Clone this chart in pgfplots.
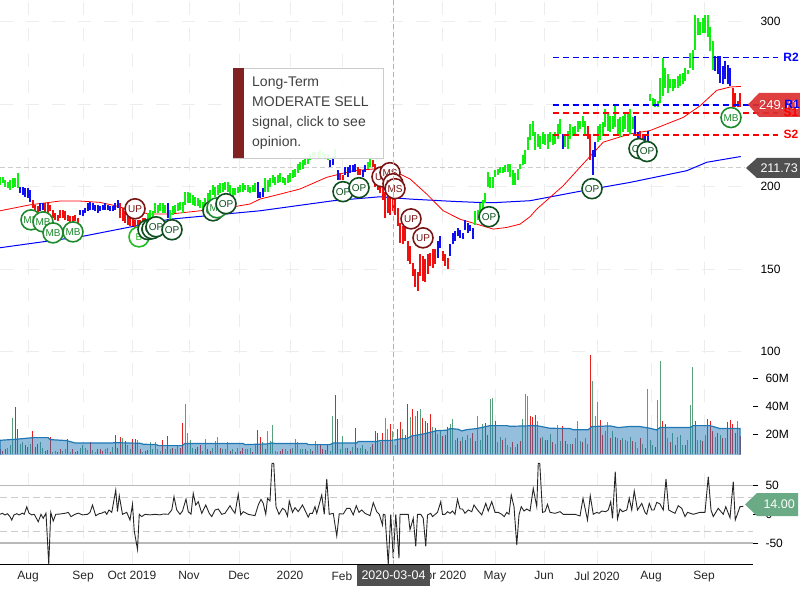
\documentclass[border=0pt]{standalone}
\usepackage{fontspec}
\setmainfont{Liberation Sans}
\usepackage{pgfplots}
\usepackage{pgfplotstable}
\pgfplotsset{compat=1.18}
\definecolor{pgreen}{HTML}{10F010}
\definecolor{pblue}{HTML}{1010F0}
\definecolor{pred}{HTML}{F01010}
\definecolor{mbg}{HTML}{1D8A2D}
\definecolor{bg}{HTML}{22BB22}
\definecolor{opg}{HTML}{0F4F1F}
\definecolor{upr}{HTML}{7A1515}
\definecolor{vg}{HTML}{5AA07A}
\definecolor{vr}{HTML}{E82020}
\definecolor{ma}{HTML}{1F77B4}
\definecolor{gridc}{HTML}{EDEDED}
\definecolor{tagr}{HTML}{DC2F2F}
\definecolor{tagd}{HTML}{505050}
\definecolor{tagg}{HTML}{6AAA85}

\pgfplotstableread[row sep=\\]{
x lo hi\\
0 201 206\\1 202 206\\2 200 204\\3 199 203\\4 198 204\\5 199 205\\6 200 205\\7 199 208\\
59 179 184\\60 180 186\\61 180 185\\62 184 190\\63 184 189\\64 185 190\\65 184 190\\66 184 189\\
68 180 186\\69 183 188\\70 184 189\\71 185 190\\72 186 191\\73 184 191\\74 189 197\\75 190 197\\76 190 196\\77 189 195\\78 188 194\\79 188 193\\80 187 192\\81 186 191\\82 187 193\\83 189 196\\84 191 198\\85 195 201\\86 194 200\\87 195 201\\88 196 202\\89 197 202\\90 198 203\\91 197 203\\92 195 201\\93 194 199\\94 195 199\\95 196 200\\96 197 201\\97 197 202\\98 198 201\\99 197 201\\100 196 200\\101 197 201\\102 197 202\\
106 197 205\\107 197 204\\108 200 205\\109 202 207\\110 201 206\\111 202 207\\112 203 208\\113 202 206\\114 201 205\\115 202 207\\116 203 208\\117 205 210\\118 206 211\\119 208 214\\120 210 215\\121 211 216\\122 213 217\\123 214 218\\124 216 220\\125 218 221\\126 218 221\\127 217 221\\128 218 222\\129 218 221\\130 217 220\\131 216 220\\134 217 223\\147 211 215\\148 212 217\\
190 177 185\\191 180 186\\192 184 190\\193 186 192\\194 190 196\\195 200 209\\196 199 206\\197 199 206\\198 206 210\\199 207 211\\200 208 212\\201 208 212\\202 209 213\\203 209 214\\204 206 214\\205 201 210\\206 201 208\\207 204 211\\208 211 214\\209 213 219\\210 214 222\\211 222 230\\212 228 238\\213 231 240\\214 222 233\\215 224 232\\216 223 231\\217 226 233\\218 225 232\\219 223 232\\220 227 233\\221 225 232\\222 226 233\\223 229 238\\224 232 241\\226 224 232\\227 223 234\\228 229 238\\229 231 236\\230 232 237\\231 233 240\\232 235 240\\233 236 243\\234 232 240\\
239 227 237\\240 228 238\\241 231 239\\242 236 247\\243 234 245\\244 233 243\\245 235 243\\246 236 250\\247 232 241\\248 230 242\\249 233 243\\250 235 245\\251 233 244\\252 232 247\\253 235 242\\
260 252 256\\261 249 254\\262 248 253\\263 248 252\\264 251 266\\265 255 278\\266 260 272\\267 257 268\\268 260 265\\269 258 265\\270 260 265\\271 260 267\\272 261 268\\273 262 269\\274 264 272\\275 268 271\\276 272 281\\277 271 283\\278 283 304\\279 292 302\\280 292 300\\281 293 302\\282 293 304\\283 291 304\\284 282 297\\285 271 288\\
}\gtab
\pgfplotstableread[row sep=\\]{
x lo hi\\
8 196 200\\9 195 200\\10 194 199\\11 193 199\\12 191 198\\16 185 190\\17 186 190\\32 183 186\\33 182 186\\34 184 187\\35 185 190\\36 186 191\\37 186 190\\38 185 189\\39 184 189\\40 185 188\\41 186 189\\42 186 190\\43 186 189\\44 185 188\\45 185 188\\46 186 190\\47 187 192\\67 181 190\\103 193 203\\104 193 197\\105 194 199\\132 212 216\\133 213 218\\135 204 210\\138 207 212\\139 206 212\\140 208 213\\141 209 213\\142 209 214\\145 206 210\\146 209 213\\175 157 167\\176 163 170\\180 158 165\\181 165 172\\182 167 173\\183 170 175\\184 169 174\\185 168 172\\186 174 180\\187 172 178\\188 173 177\\189 168 175\\225 223 232\\237 207 222\\238 218 227\\254 231 243\\255 229 233\\258 228 232\\259 226 234\\286 270 279\\287 268 279\\288 263 279\\289 262 273\\290 265 276\\291 262 274\\292 261 272\\
}\btab
\pgfplotstableread[row sep=\\]{
x lo hi\\
13 187 192\\14 185 189\\15 184 188\\18 183 190\\19 184 190\\20 185 189\\21 181 186\\22 180 184\\23 179 183\\24 181 186\\25 181 186\\26 180 185\\27 179 183\\28 178 182\\29 177 182\\30 179 183\\31 177 181\\48 181 190\\49 179 187\\50 178 185\\51 177 183\\52 176 182\\53 176 181\\54 175 180\\55 175 180\\56 176 180\\57 176 181\\58 177 181\\136 204 208\\137 204 207\\143 207 212\\144 207 211\\149 212 216\\150 200 214\\151 198 208\\152 196 205\\153 192 203\\154 181 197\\155 184 196\\156 183 196\\157 185 195\\158 183 193\\159 176 187\\160 166 178\\161 165 176\\162 167 178\\163 155 167\\164 153 164\\165 146 154\\166 139 150\\167 137 148\\168 146 159\\169 143 158\\170 142 156\\171 147 159\\172 152 160\\173 151 162\\174 153 162\\177 155 161\\178 152 159\\179 150 157\\235 229 237\\236 216 232\\256 229 234\\257 227 232\\293 248 260\\294 248 257\\295 248 252\\296 248 257\\
}\rtab
\pgfplotstableread[row sep=\\]{
x v\\
3 10\\4 12\\5 31.5\\8 13\\9 14.5\\12 13\\16 14\\17 10\\21 7.5\\22 8\\25 8\\26 9\\28 7.5\\32 10\\33 12\\34 10\\35 8.5\\37 8.5\\38 7\\42 9\\43 10\\45 11\\49 17\\51 12\\52 9\\55 16\\57 7.5\\60 14.3\\61 9\\62 14.3\\63 9\\64 8\\66 9\\68 9\\70 9.5\\71 12\\74 41.5\\75 21\\76 15.8\\77 10\\81 8\\82 16.5\\85 10\\86 15\\87 18\\89 9\\90 9.5\\91 14.3\\93 9\\95 10\\98 9\\99 9\\100 10\\102 13\\105 14.3\\107 22.2\\108 15\\109 26.5\\110 8\\111 7.5\\114 9\\115 8\\117 10\\118 16.5\\119 14.3\\120 9\\121 9\\123 8\\124 9\\126 15\\127 12\\132 8\\133 32.9\\136 9\\137 18.6\\138 10\\141 11\\144 10\\145 12\\147 8\\148 11\\152 14\\154 31.7\\155 23.9\\157 22\\158 12\\161 23.9\\164 32.4\\166 32.9\\168 38.1\\173 25\\175 20\\176 22.5\\180 27.2\\181 31\\182 16\\185 18\\187 19\\188 17\\191 33.1\\192 16\\193 27.2\\196 45.3\\197 46\\199 14\\200 18\\202 17\\203 12\\204 11\\206 10.5\\209 31\\210 48.9\\211 47.4\\215 29\\217 18\\220 20\\222 13\\223 26.7\\224 15\\227 13\\228 13\\230 17\\231 29.6\\232 15\\234 17\\235 13\\237 58.1\\238 33.1\\239 42.9\\242 22\\243 28.9\\245 22\\247 17\\249 17\\250 16\\251 15\\252 18\\254 14\\255 10\\257 13\\259 52.4\\260 16\\261 12\\263 44.6\\264 72.4\\267 17\\269 21\\271 18\\272 19\\273 12\\275 16\\276 41\\277 68.1\\279 16\\280 16\\282 19\\286 18\\288 19\\290 17\\295 29.6\\
}\vgtab
\pgfplotstableread[row sep=\\]{
x v\\
0 9\\1 8\\2 9\\6 39.3\\7 23.9\\10 12\\11 10.5\\13 22.2\\14 11\\15 13\\18 8\\19 8.5\\20 18\\23 7.5\\24 9\\27 16.2\\29 9\\30 7\\31 8\\36 14\\39 9.5\\40 9.5\\41 8\\44 7.5\\46 19.6\\47 10\\48 18\\50 15\\53 16.7\\54 16.2\\56 9\\58 8\\59 8.5\\65 15.8\\67 18.6\\69 10\\72 10\\73 28.1\\78 9\\79 11\\80 12\\83 9\\84 8\\88 10\\92 8\\94 7\\96 8\\97 10\\101 7.5\\103 22.9\\104 18\\106 9\\112 8\\113 9\\116 9\\122 9\\125 8\\128 13\\129 9\\130 8.5\\131 12\\134 47.9\\135 31\\139 10\\140 8\\142 24.3\\143 10\\146 9\\149 13\\150 22.2\\151 20.8\\153 20.8\\156 27.2\\159 23.9\\160 28.6\\162 19.6\\163 41.5\\165 38.1\\167 36.7\\169 31.7\\170 29.1\\171 27.9\\172 34.3\\174 24.3\\177 18.6\\178 19\\179 25.3\\183 17\\184 15\\186 16\\189 20.5\\190 15\\194 28.1\\195 19\\198 29.6\\201 16\\205 14\\207 13\\208 15\\212 33.1\\213 32.4\\214 33.9\\216 17\\218 16\\219 15.5\\221 14\\225 26\\226 15\\229 13\\233 14\\236 76.2\\240 30\\241 19\\244 17\\246 18\\248 16\\253 15\\256 17\\258 10\\262 11\\265 29.6\\266 27.4\\268 14\\270 12\\274 12\\278 29.6\\281 15\\283 31\\284 29.6\\285 22\\287 21\\289 17\\291 28.9\\292 30.3\\293 27.2\\294 21\\296 18.6\\
}\vrtab

\newcommand{\mk}[4]{\addplot[only marks,mark=*,mark size=10pt,mark options={draw=#1,fill=white,line width=1.6pt},nodes near coords={#4},every node near coord/.style={anchor=center,inner sep=0pt,text=#1,font=\fontsize{10}{10}\selectfont}] coordinates {(#2,#3)};}
\newcommand{\bars}[2]{\addplot[draw=none,mark=none,forget plot,error bars/.cd,y dir=plus,y explicit,error mark=none,error bar style={draw=#2,line width=2pt}] table[x=x,y=lo,y error plus expr=\thisrow{hi}-\thisrow{lo}] {#1};}
\pgfplotsset{base/.style={scale only axis,width=753pt,xmin=0,xmax=301.2,
  axis line style={draw=none},
  xtick={11.2,33.2,52.8,75.6,95.6,116,136.8,157.2,176.8,198,217.6,238.8,260.4,281.6},
  xticklabels={},
  xmajorgrids,
  xtick style={draw=none},
  grid style={gridc,line width=0.9pt,dash pattern=on 13pt off 13pt},
  ytick pos=right,
  yticklabel style={anchor=west,font=\fontsize{12}{14}\selectfont,text=black},
  /pgf/number format/assume math mode=true,
  major tick length=0pt}}

\begin{document}
\begin{tikzpicture}[x=1pt,y=1pt]
\path[use as bounding box] (0,0) rectangle (800,600);
% ---- price ----
\begin{axis}[base,at={(0pt,246.65pt)},anchor=south west,height=353.35pt,
  ymin=99,ymax=313.15,clip=false,ymajorgrids,
  ytick={100,150,200,250,300},yticklabel style={xshift=4pt}]
\addplot[gray!40,line width=1.6pt,dash pattern=on 5pt off 3pt,forget plot] coordinates {(0,211.73)(298,211.73)};
\addplot[blue,line width=1pt,forget plot] coordinates {(0,163)(33.3,170)(68,180.3)(104,185.4)(133.3,191.5)(152,193.9)(164,192.5)(181.3,191.1)(190.7,190.5)(197.3,190.3)(212,191.5)(233.3,197.6)(252,202.6)(274.7,209.7)(282.7,214.8)(296.3,218.3)};
\addplot[red,line width=0.8pt,forget plot] coordinates {(0,185.4)(12,189)(24,191.3)(32,191.3)(40,190.5)(46,188.5)(53.3,185.4)(60,183.4)(68,183.4)(80,185.4)(93.3,187.8)(100,189.5)(104,192.5)(112,195.5)(120,198.6)(130.7,205.7)(141.3,209.7)(149.3,210.7)(157.3,209.7)(164,204.7)(170.7,195.5)(177.3,185.4)(184,180.3)(190.7,177.3)(197.3,174.3)(202.7,175.3)(208,177.3)(212,181.8)(214.7,186.4)(220,193.5)(225.3,200.6)(232,211.8)(241.3,227)(252,232)(260,234)(273.3,242)(280,249)(286.7,258.4)(292,260.4)(296.3,260.8)};
\bars{\gtab}{pgreen}
\bars{\btab}{pblue}
\bars{\rtab}{pred}
\addplot[blue,line width=1.5pt,dash pattern=on 6pt off 4pt,forget plot] coordinates {(221,278.2)(311,278.2)};
\addplot[blue,line width=1.5pt,dash pattern=on 6pt off 4pt,forget plot] coordinates {(221,249.6)(311,249.6)};
\addplot[red,line width=1.5pt,dash pattern=on 6pt off 4pt,forget plot] coordinates {(221,244.8)(311,244.8)};
\addplot[red,line width=1.5pt,dash pattern=on 6pt off 4pt,forget plot] coordinates {(221,231.4)(311,231.4)};
\mk{mbg}{12.4}{179.9}{MB}
\mk{mbg}{17.2}{178.7}{MB}
\mk{mbg}{21.2}{172}{MB}
\mk{mbg}{29.2}{172.6}{MB}
\mk{bg}{55.6}{169.6}{B}
\mk{upr}{54}{186.6}{UP}
\mk{opg}{59.2}{174}{OP}
\mk{opg}{60.8}{174.5}{OP}
\mk{opg}{62.4}{175.7}{OP}
\mk{opg}{68.8}{173.9}{OP}
\mk{opg}{85.2}{185.4}{OP}
\mk{mbg}{86.8}{187.2}{MB}
\mk{opg}{90.4}{189.7}{OP}
\mk{opg}{137.2}{197}{OP}
\mk{opg}{143.6}{199.4}{OP}
\mk{upr}{152.8}{206}{UP}
\mk{upr}{156}{208.5}{MS}
\mk{upr}{157.2}{201.8}{UP}
\mk{upr}{158}{198.8}{MS}
\mk{upr}{164.4}{180.5}{UP}
\mk{upr}{169.2}{169}{UP}
\mk{opg}{195.6}{181.8}{OP}
\mk{opg}{236.8}{198.8}{OP}
\mk{opg}{255.6}{223.1}{OP}
\mk{opg}{258.8}{221.3}{OP}
\mk{mbg}{292.4}{241.9}{MB}
\end{axis}
% ---- volume ----
\begin{axis}[base,at={(0pt,145.7pt)},anchor=south west,height=109pt,
  ymin=5.5,ymax=83.4,
  ytick={20,40,60},yticklabels={20M,40M,60M},
  major tick length=5pt,tick align=outside,ytick style={black,line width=0.9pt},
  yticklabel style={xshift=4pt}]
\addplot[ycomb,vg,line width=0.9pt,mark=none,forget plot] table[x=x,y=v] {\vgtab};
\addplot[ycomb,vr,line width=0.9pt,mark=none,forget plot] table[x=x,y=v] {\vrtab};
\addplot[draw=ma,line width=1.2pt,fill=ma,fill opacity=0.48,forget plot] coordinates {(0,15.5)(6.7,16.3)(13.3,17.4)(19.3,17.4)(20,16)(26.7,15.3)(30,13.6)(44.7,13.6)(46,13.8)(56,13.4)(57.3,12.7)(62.7,12.4)(63.3,11.7)(72.7,11.7)(74,13.2)(97.3,13.2)(98,12.4)(106.7,12.9)(108.7,13.6)(110,13.2)(122.7,13.2)(123.3,12.4)(132,12.4)(133.3,13.6)(142.7,13.6)(143.3,14.6)(150.7,14.6)(152,15.3)(157.3,15.5)(160,16.5)(162.7,16.7)(164.7,18.6)(169.3,20)(174.7,22.4)(178.7,22.7)(180,23.9)(183.3,23.4)(184.7,22.2)(186.7,23.1)(190.7,23.9)(196,26)(202.7,26)(204,25.5)(214.7,26)(220,24.1)(228,23.9)(229.3,23.1)(235.3,23.1)(236.7,25.3)(244,25.8)(247.3,24.6)(251.3,25.3)(256,25.3)(260,24.1)(262.7,22.9)(264,24.6)(276,24.6)(277.3,26)(284,26)(288,23.9)(296,23.9)} |- (axis cs:0,0) -- cycle;
\end{axis}
% ---- cci ----
\begin{axis}[base,at={(0pt,36pt)},anchor=south west,height=101pt,
  ymin=-86.6,ymax=89.4,
  ytick={-50,0,50},yticklabels={-50,0,50},
  ytick style={black,line width=0.9pt},
  major tick length=5pt,tick align=outside,
  yticklabel style={xshift=4pt},
  xticklabels={Aug,Sep,Oct 2019,Nov,Dec,2020,Feb,Mar,Apr 2020,May,Jun,Jul 2020,Aug,Sep},
  xticklabel style={font=\fontsize{12}{14}\selectfont,text=black!85,yshift=1pt},
  xtick style={draw=none},
  axis x line*=bottom,axis y line*=right,
  x axis line style={draw=black,line width=1pt,-},
  y axis line style={draw=none}]
\addplot[gray!55,line width=1.6pt,forget plot] coordinates {(0,50)(301.2,50)};
\addplot[gray!55,line width=1.6pt,forget plot] coordinates {(0,-50)(301.2,-50)};
\addplot[gray!40,line width=1pt,dash pattern=on 7pt off 4pt,forget plot] coordinates {(0,30)(301.2,30)};
\addplot[gray!40,line width=1pt,dash pattern=on 7pt off 4pt,forget plot] coordinates {(0,-30)(301.2,-30)};
\addplot[black!85,line width=0.9pt,forget plot] coordinates {(0,0)(1,1.7)(2,-1.2)(3,1.1)(4,-4.1)(4.7,-10)(5.6,-1)(6.7,1)(7.6,-1)(9,2)(9.7,0)(10.7,13)(11.6,2)(12.7,-1)(13.7,0)(15.3,-13)(16.4,0)(17.3,-7)(18.4,2)(19.5,-87)(20.3,3.4)(21.3,-11.7)(22.3,0)(24,0.5)(26.3,2)(27.3,3.4)(28.4,-4)(30,0)(31.3,2)(33,-1)(35,0)(36,3.4)(37,16)(38.3,-2.4)(39.6,1)(40.7,2)(42,4.6)(42.7,0)(43.6,7.5)(44.7,3.4)(46.3,42.3)(47,4.6)(47.7,32.5)(49,0)(50.7,3.4)(52,-10)(53,17.4)(53.7,-29)(55,-61)(55.7,0)(56.7,-4)(58,0)(60,-1)(62,0)(64,-1)(65.3,0.5)(67.3,0)(68.7,7.5)(69.6,30.7)(70.7,7.5)(72,0)(73,5.7)(74.4,26.6)(75.3,4.6)(76.4,0)(77.3,36.5)(78.3,16.2)(79.3,22)(80.7,1.7)(82.3,16.2)(83.7,1.7)(84.7,-4)(86,7.5)(87.3,9.2)(88.7,0)(90,1.7)(92,15)(93,7.5)(94,1.7)(95.3,34.8)(96.3,-1)(97.3,4.6)(99.3,0)(102,-2.4)(103.3,16.2)(104.4,26)(105.3,19)(106.3,0)(107,27.8)(108,23.2)(108.8,88.8)(109.5,88.8)(110.4,13.3)(111.6,0)(113,10.4)(114,7.5)(115,-3)(115.7,23)(117,3.4)(118,11.6)(119.3,4.6)(121,16.2)(123.3,-5)(124,1.7)(125,1.7)(126,13.3)(126.7,1.7)(128.7,33.6)(129.7,0)(130.7,61.5)(131.7,0)(133.3,1.7)(134.7,-37.8)(135.7,1)(137.3,0.5)(138.7,10.4)(140,10.4)(141.3,-1)(142.5,15)(143.6,3.4)(144.7,7.5)(146,1.7)(148,-2.4)(149.3,20.3)(150.7,4.6)(151.7,0)(153,-18.6)(153.3,0)(154,-1)(155.3,-87)(156.3,0)(157.3,-76.7)(158.3,0)(159.6,-76.7)(160,0)(163.3,0)(164,-27)(165.3,-7)(166.3,-56)(167,0)(168.3,0)(169.3,-7)(170.3,-56)(171,-1)(172.3,1.7)(173,-4)(175,3.4)(176.3,22)(177,0)(178,0)(179,4.6)(180,1.7)(181,5.7)(182,0)(183,26)(184,9.2)(185,9.2)(186,1.7)(187.3,7.5)(188.7,4.6)(189.6,16.2)(191,7.5)(192.7,-1)(194.3,19)(195.3,5.7)(196.7,22)(198,3.4)(199.3,3.4)(200.7,0)(201.7,-4)(202.7,3.4)(203.6,0)(204.5,33.6)(205.6,13.3)(206.7,-53.5)(207.6,-1)(208.5,13.3)(209.6,5.7)(210.7,9.2)(212,5.7)(213.3,45.2)(214.7,13.3)(215.3,88.8)(215.9,88.8)(217,3.4)(218,4.6)(219,17.4)(220,3.4)(222,1.7)(224,4.6)(225.3,0)(230,0)(232,-3)(233.2,27.8)(235,-10)(236.1,32.5)(237.3,0)(238.7,3.4)(239.6,1.7)(240.7,5.7)(242.3,4.6)(243.3,7.5)(244.3,22)(245,-7)(246.1,74.3)(247,-8)(248,9.2)(249,4.6)(250.7,7.5)(251.7,27.8)(252.7,7.5)(253.7,40.6)(255,7.5)(256.7,19)(258,3.4)(258.7,0)(259.7,19)(260.7,7.5)(261.6,7.5)(262.7,20.8)(264,18)(265.3,7.5)(266.4,61.5)(267.5,7.5)(268.7,4.6)(270,1.7)(271.3,15)(272.7,10.4)(274,-4)(275,3.4)(277.3,0)(280,3.4)(282,3.4)(283.3,65.6)(284.4,7.5)(285.3,-4)(287.3,10.4)(289.3,0)(290.3,13.3)(292,-6)(293.3,56.8)(294.1,-10)(296,13.3)(297.3,14)};
\end{axis}
% ---- overlay ----
\draw[gray!60,line width=0.9pt,dash pattern=on 5pt off 3pt] (393.5,600) -- (393.5,36);
\fill[tagd] (357,35) rectangle (430,14);
\node[text=white,font=\fontsize{12.5}{14}\selectfont] at (393.5,25) {2020-03-04};
\fill[white,opacity=0.9] (233,532) rectangle (383,442);
\draw[gray!40,line width=0.8pt] (233,532) rectangle (383,442);
\fill[upr!95] (233,532) rectangle (244,442);
\foreach \yy/\tt in {513/Long-Term,493/MODERATE SELL,473/{signal, click to see},453/opinion.}
  \node[anchor=base west,inner sep=0pt,text=black!75,font=\fontsize{14}{16}\selectfont] at (252,\yy) {\tt};
\fill[tagr,opacity=0.92] (748,495.5) -- (759,507) -- (800,507) -- (800,483) -- (759,483) -- cycle;
\node[anchor=east,inner sep=0pt,text=white,font=\fontsize{13}{15}\selectfont] at (799,495) {249.71};
\fill[tagd] (746,432) -- (757,442) -- (800,442) -- (800,422) -- (757,422) -- cycle;
\node[anchor=east,inner sep=0pt,text=white,font=\fontsize{12.5}{15}\selectfont] at (798,432) {211.73};
\fill[tagg] (745,95.5) -- (757,107) -- (798,107) -- (798,84) -- (757,84) -- cycle;
\node[anchor=east,inner sep=0pt,text=white,font=\fontsize{12.5}{15}\selectfont] at (795,95.5) {14.00};
\foreach \xx/\yy/\cc/\tt in {791/543/blue/R2,792/495.5/blue/R1,791/488/red/S1,791/466/red/S2}
  \node[inner sep=0pt,text=\cc,font=\fontsize{12}{14}\bfseries\selectfont] at (\xx,\yy) {\tt};
\end{tikzpicture}
\end{document}
